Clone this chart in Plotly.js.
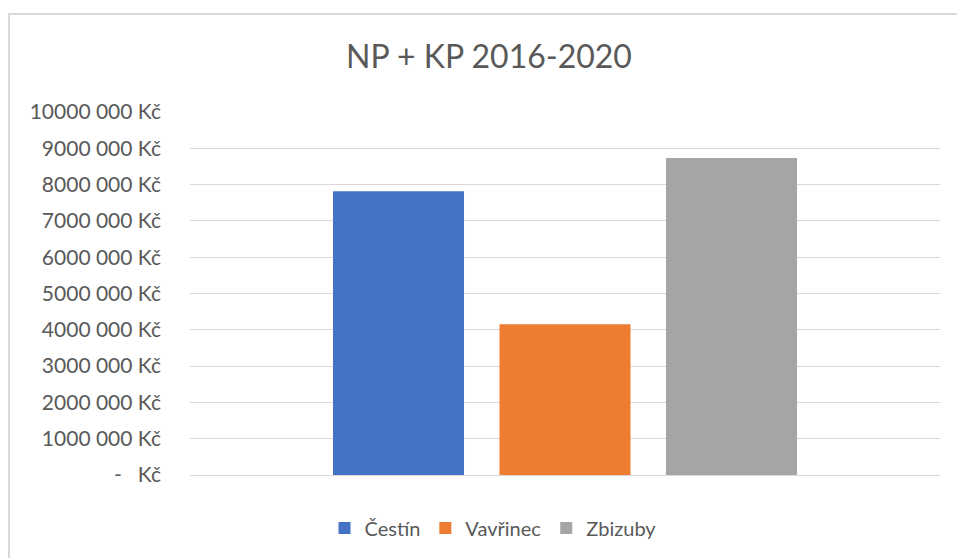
<!DOCTYPE html>
<html>
<head>
<meta charset="utf-8">
<script src="https://cdn.plot.ly/plotly-3.0.1.min.js"></script>
<style>
  html, body { margin: 0; padding: 0; background: #ffffff; }
  #wrap { position: relative; width: 957px; height: 558px; overflow: hidden; }
  #chart { position: absolute; left: 0; top: 0; width: 957px; height: 558px; }
  #frame { position: absolute; left: 8px; top: 13px; width: 1000px; height: 600px;
           border: 2px solid #d9d9d9; box-sizing: border-box; pointer-events: none; }
</style>
</head>
<body>
<div id="wrap">
  <div id="chart"></div>
  <div id="frame"></div>
</div>
<script>
const category = ['NP + KP 2016-2020'];
const seriesNames = ['Čestín', 'Vavřinec', 'Zbizuby'];
const cestin = [7820000];
const vavrinec = [4150000];
const zbizuby = [8730000];
const seriesColors = ['#4472C4', '#ED7D31', '#A5A5A5'];
const tickValues = [0, 1000000, 2000000, 3000000, 4000000, 5000000, 6000000, 7000000, 8000000, 9000000, 10000000];
const tickLabels = ['-   Kč', '1000 000 Kč', '2000 000 Kč', '3000 000 Kč', '4000 000 Kč', '5000 000 Kč',
                    '6000 000 Kč', '7000 000 Kč', '8000 000 Kč', '9000 000 Kč', '10000 000 Kč'];

const values = [cestin, vavrinec, zbizuby];
const traces = seriesNames.map((name, i) => ({
  type: 'bar',
  name: name,
  x: category,
  y: values[i],
  marker: { color: seriesColors[i], line: { width: 0 } },
  hoverinfo: 'name+y'
}));

const font = 'Lato, "Open Sans", sans-serif';
const layout = {
  width: 957,
  height: 558,
  paper_bgcolor: '#ffffff',
  plot_bgcolor: '#ffffff',
  margin: { l: 190, r: 17, t: 112, b: 82.5 },
  title: {
    text: 'NP + KP 2016-2020',
    font: { family: font, size: 32, color: '#595959' },
    x: 489 / 957, xanchor: 'center', xref: 'container',
    y: 1 - 57 / 558, yref: 'container', yanchor: 'middle'
  },
  barmode: 'group',
  bargap: 0.334,
  bargroupgap: 0.213,
  showlegend: true,
  legend: {
    orientation: 'h',
    x: 493 / 957, xref: 'container', xanchor: 'center',
    y: 30 / 558, yref: 'container', yanchor: 'middle',
    font: { family: font, size: 20, color: '#595959' },
    itemwidth: 30,
    traceorder: 'normal',
    bgcolor: 'rgba(0,0,0,0)'
  },
  xaxis: {
    type: 'category',
    showticklabels: false,
    showgrid: false,
    zeroline: false,
    showline: false,
    ticks: ''
  },
  yaxis: {
    range: [0, 10000000],
    tickvals: tickValues,
    ticktext: tickLabels,
    tickfont: { family: font, size: 21, color: '#595959' },
    showgrid: true,
    gridcolor: '#d9d9d9',
    gridwidth: 1,
    zeroline: true,
    zerolinecolor: '#d9d9d9',
    zerolinewidth: 1,
    showline: false,
    ticks: '',
    ticklabelstandoff: 28,
    fixedrange: true
  }
};

Plotly.newPlot('chart', traces, layout, { displayModeBar: false, staticPlot: true });
</script>
</body>
</html>
